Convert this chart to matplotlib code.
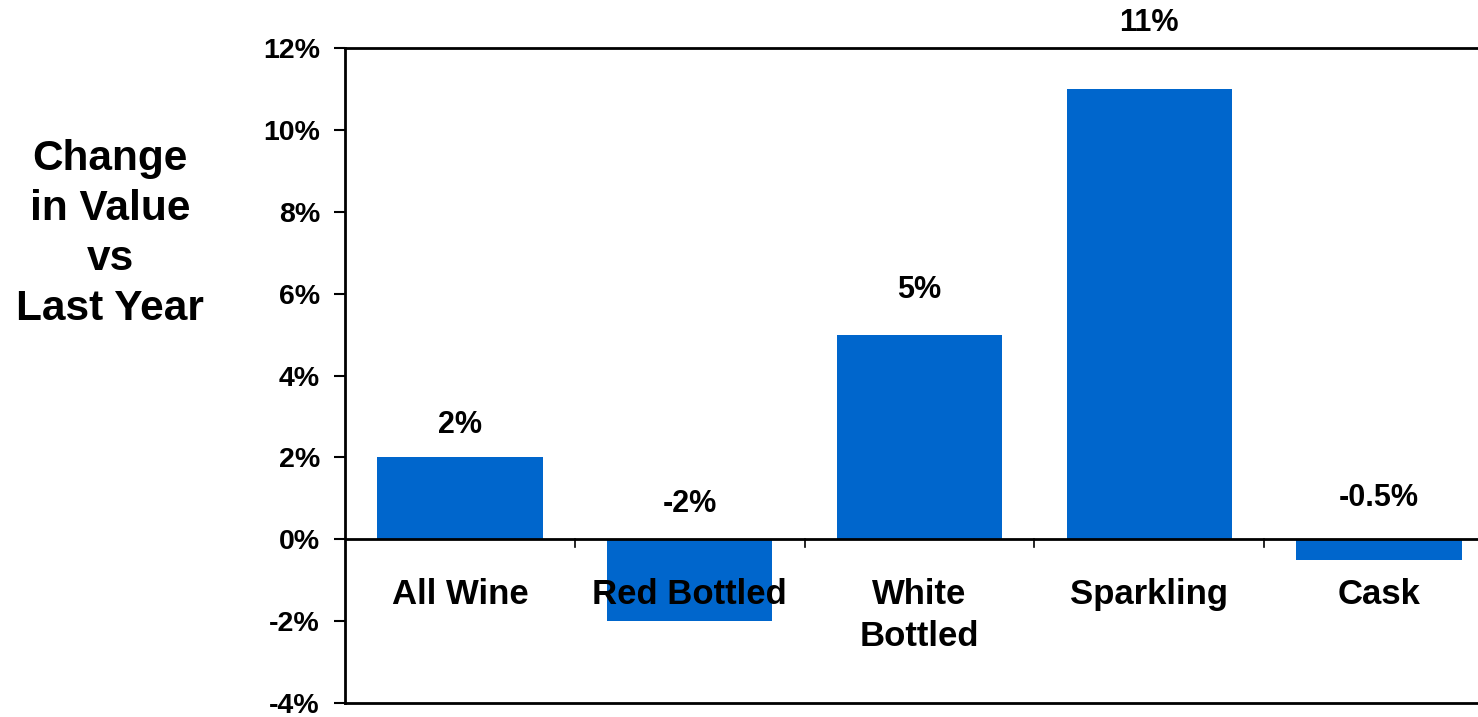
import matplotlib
matplotlib.use('Agg')
import matplotlib.pyplot as plt
from matplotlib.ticker import FuncFormatter

plt.rcParams['font.family'] = ['Liberation Sans', 'DejaVu Sans']
plt.rcParams['font.weight'] = 'bold'

# ---- data ----
categories = ['All Wine', 'Red Bottled', 'White\nBottled', 'Sparkling', 'Cask']
values = [2, -2, 5, 11, -0.5]
value_labels = ['2%', '-2%', '5%', '11%', '-0.5%']

BAR_COLOR = '#0066CC'
# distance (in %-units) from bar top (or zero line for negatives) to label centre
LABEL_PAD = [0.8, 0.85, 1.1, 1.6, 1.0]

fig = plt.figure(figsize=(14.78, 7.17), dpi=100)
ax = fig.add_axes([345 / 1478, 14 / 717, 1149 / 1478, 655 / 717])

x = list(range(len(categories)))
ax.bar(x, values, width=0.72, color=BAR_COLOR, zorder=2)

ax.set_xlim(-0.5, len(categories) - 0.5)
ax.set_ylim(-4, 12)
ax.set_yticks(range(-4, 13, 2))
ax.yaxis.set_major_formatter(FuncFormatter(lambda v, p: f'{v:.0f}%'))
ax.tick_params(axis='y', length=8, width=1.5, labelsize=20.5, pad=10)
ax.set_xticks([])

for s in ['left', 'top', 'bottom']:
    ax.spines[s].set_linewidth(2)
ax.spines['right'].set_visible(False)

# zero line with category separators
ax.axhline(0, color='black', lw=2, zorder=3)
for b in [i + 0.5 for i in x[:-1]]:
    ax.plot([b, b], [0, -0.2], color='black', lw=1.2, zorder=3)

# value labels
for xi, v, lab, pad in zip(x, values, value_labels, LABEL_PAD):
    y = max(v, 0) + pad
    ax.text(xi, y, lab, ha='center', va='center', fontsize=22, fontweight='bold',
            clip_on=False)

# category labels
for xi, c in zip(x, categories):
    ax.text(xi, -0.95, c, ha='center', va='top', fontsize=25, fontweight='bold',
            linespacing=1.35, zorder=4)

fig.text(110 / 1478, 1 - 234 / 717, 'Change\nin Value\nvs\nLast Year', ha='center',
         va='center', fontsize=30.5, fontweight='bold', linespacing=1.32)

fig.savefig('out.png', dpi=100)
